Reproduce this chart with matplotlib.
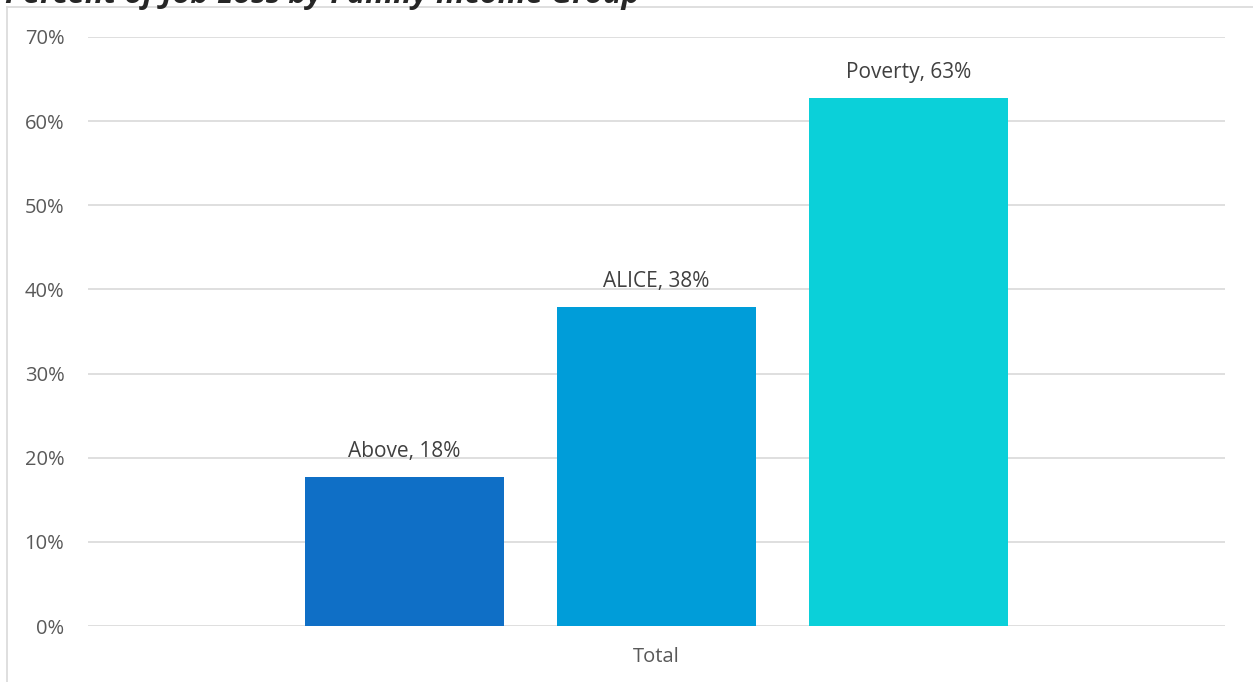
import matplotlib
matplotlib.use("Agg")
import matplotlib.pyplot as plt
from matplotlib.ticker import PercentFormatter
from matplotlib.lines import Line2D

categories = ["Total"]
series = ["Above", "ALICE", "Poverty"]
values = [17.7, 37.9, 62.7]
colors = ["#0F6FC6", "#009DD9", "#0BD0D9"]
yticks = [0, 10, 20, 30, 40, 50, 60, 70]
title = "Percent of Job Loss by Family Income Group"

plt.rcParams['font.family'] = ['Open Sans', 'DejaVu Sans']

fig = plt.figure(figsize=(12.53, 6.82), dpi=100)
ax = fig.add_axes([88/1253, 1-626/682, (1225-88)/1253, (626-37)/682])

spacing = 0.222
width = 0.175
for i, (name, v, c) in enumerate(zip(series, values, colors)):
    x = (i - 1) * spacing
    ax.bar(x, v, width=width, color=c, zorder=3)
    ax.annotate(f"{name}, {round(v)}%", (x, v), xytext=(0, 11), textcoords="offset points",
                ha="center", va="bottom", fontsize=15, color="#404040")

ax.set_xlim(-0.5, 0.5)
ax.set_ylim(0, 70)
ax.set_yticks(yticks)
ax.yaxis.set_major_formatter(PercentFormatter(decimals=0))
ax.set_xticks([0])
ax.set_xticklabels(categories)
ax.tick_params(axis='both', length=0, labelsize=14.5, labelcolor="#595959")
ax.tick_params(axis='y', pad=17)
ax.tick_params(axis='x', pad=15)
ax.grid(axis='y', color="#d9d9d9", linewidth=1.2, zorder=0)
for s in ax.spines.values():
    s.set_visible(False)

# outer chart border (partially visible)
fig.add_artist(Line2D([7/1253, 7/1253], [0, 1-7/682], transform=fig.transFigure, color="#d9d9d9", lw=1.2))
fig.add_artist(Line2D([7/1253, 1], [1-7/682, 1-7/682], transform=fig.transFigure, color="#d9d9d9", lw=1.2))

fig.text(5/1253, 1-3/682, title, fontsize=22.3, fontweight='bold', fontstyle='italic',
         color="#262626", ha='left', va='baseline')

fig.savefig("out.png", dpi=100)
